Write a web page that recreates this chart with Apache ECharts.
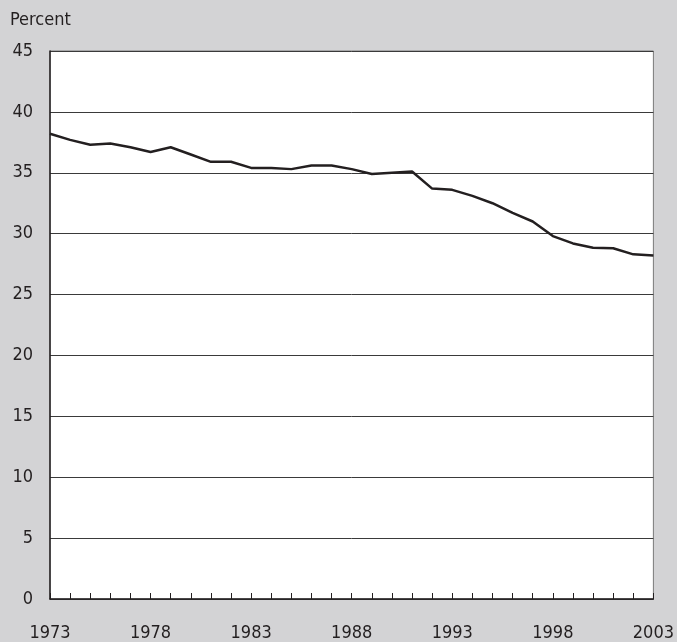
<!DOCTYPE html>
<html>
<head>
<meta charset="utf-8">
<script src="https://cdn.jsdelivr.net/npm/echarts@6/dist/echarts.min.js"></script>
<style>
  html, body { margin: 0; padding: 0; background: #d3d3d5; }
  #main { width: 677px; height: 642px; }
</style>
</head>
<body>
<div id="main"></div>
<script>
const years = [1973, 1974, 1975, 1976, 1977, 1978, 1979, 1980, 1981, 1982,
  1983, 1984, 1985, 1986, 1987, 1988, 1989, 1990, 1991, 1992,
  1993, 1994, 1995, 1996, 1997, 1998, 1999, 2000, 2001, 2002, 2003]
const percent = [38.2, 37.7, 37.3, 37.4, 37.1, 36.7, 37.1, 36.5, 35.9, 35.9,
  35.4, 35.4, 35.3, 35.6, 35.6, 35.3, 34.9, 35.0, 35.1, 33.7,
  33.6, 33.1, 32.5, 31.7, 31.0, 29.8, 29.2, 28.85, 28.8, 28.3, 28.2]
const yTicks = [0, 5, 10, 15, 20, 25, 30, 35, 40, 45]
const xLabelYears = [1973, 1978, 1983, 1988, 1993, 1998, 2003]

const font = '"DejaVu Sans Condensed", "Liberation Sans Narrow", sans-serif'
const textColor = '#231f20'

const chart = echarts.init(document.getElementById('main'))

const option = {
  backgroundColor: '#d3d3d5',
  animation: false,
  graphic: [
    {
      type: 'text',
      left: 10,
      top: 11,
      style: {
        text: 'Percent',
        font: '18px ' + font,
        fill: textColor,
      },
    },
  ],
  grid: {
    left: 50,
    right: 22,
    top: 51,
    bottom: 40,
    show: true,
    backgroundColor: '#ffffff',
    borderColor: '#7a7a7a',
    borderWidth: 1,
  },
  xAxis: {
    type: 'value',
    min: years[0],
    max: years[years.length - 1],
    interval: 1,
    axisLine: { lineStyle: { color: '#231f20', width: 1.5 } },
    axisTick: { inside: true, length: 6, lineStyle: { color: '#231f20' } },
    splitLine: { show: false },
    axisLabel: {
      margin: 25,
      fontSize: 18,
      fontFamily: font,
      color: textColor,
      formatter: (v) => (xLabelYears.indexOf(v) >= 0 ? String(v) : ''),
    },
  },
  yAxis: {
    type: 'value',
    min: yTicks[0],
    max: yTicks[yTicks.length - 1],
    interval: 5,
    axisLine: { show: true, lineStyle: { color: '#231f20', width: 1.5 } },
    axisTick: { show: false },
    splitLine: { show: true, lineStyle: { color: '#3a3a3a', width: 1 } },
    axisLabel: {
      margin: 17,
      fontSize: 18,
      fontFamily: font,
      color: textColor,
    },
  },
  series: [
    {
      type: 'line',
      data: years.map((y, i) => [y, percent[i]]),
      showSymbol: false,
      lineStyle: { color: '#231f20', width: 2.5 },
    },
  ],
}

chart.setOption(option)
</script>
</body>
</html>
